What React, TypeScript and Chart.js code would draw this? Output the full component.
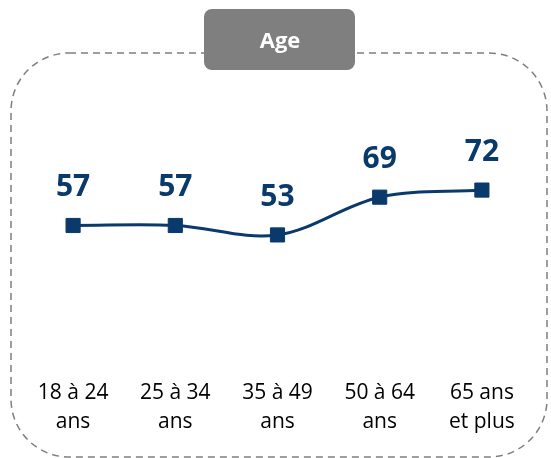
import React, { useEffect, useRef } from "react";
import { Chart, registerables } from "chart.js";

Chart.register(...registerables);

const categories: string[][] = [
  ["18 à 24", "ans"],
  ["25 à 34", "ans"],
  ["35 à 49", "ans"],
  ["50 à 64", "ans"],
  ["65 ans", "et plus"],
];
const values: number[] = [57, 57, 53, 69, 72];
const panelTitle = "Age";

const NAVY = "#0a3a6b";
const GREY = "#7f7f7f";

const framePlugin = {
  id: "frame",
  beforeDraw(chart: any) {
    const ctx = chart.ctx;
    ctx.save();
    // dashed rounded frame
    ctx.beginPath();
    ctx.setLineDash([7, 5]);
    ctx.lineWidth = 1.5;
    ctx.strokeStyle = GREY;
    (ctx as any).roundRect(11, 53, 536, 404, 58);
    ctx.stroke();
    ctx.setLineDash([]);
    // title box
    ctx.beginPath();
    ctx.fillStyle = GREY;
    (ctx as any).roundRect(204, 9, 151, 61, 8);
    ctx.fill();
    ctx.fillStyle = "#ffffff";
    ctx.font = "bold 22px 'Open Sans'";
    ctx.textAlign = "center";
    ctx.textBaseline = "alphabetic";
    ctx.fillText(panelTitle, 280, 48);
    ctx.restore();
  },
};

const labelPlugin = {
  id: "valueLabels",
  afterDatasetsDraw(chart: any) {
    const ctx = chart.ctx;
    const meta = chart.getDatasetMeta(0);
    ctx.save();
    ctx.fillStyle = NAVY;
    ctx.font = "bold 30px 'Open Sans'";
    ctx.textAlign = "center";
    ctx.textBaseline = "alphabetic";
    meta.data.forEach((pt: any, i: number) => {
      ctx.fillText(String(values[i]), pt.x, pt.y - 29);
    });
    ctx.restore();
  },
};

export default function App() {
  const ref = useRef<HTMLCanvasElement>(null);
  useEffect(() => {
    if (!ref.current) return;
    const chart = new Chart(ref.current, {
      type: "line",
      data: {
        labels: categories,
        datasets: [
          {
            data: values,
            borderColor: NAVY,
            backgroundColor: NAVY,
            borderWidth: 3,
            tension: 0.35,
            pointStyle: "rect",
            pointRadius: 10,
            pointBorderWidth: 1,
            pointBackgroundColor: NAVY,
            pointBorderColor: NAVY,
            clip: false as any,
          },
        ],
      },
      options: {
        animation: false,
        responsive: false,
        layout: { padding: { left: 22, right: 18, top: 124, bottom: 0 } },
        plugins: { legend: { display: false }, tooltip: { enabled: false } },
        scales: {
          x: {
            offset: true,
            border: { display: false },
            grid: { display: false, drawTicks: false },
            afterFit: (scale: any) => {
              scale.height = 98;
            },
            ticks: {
              color: "#000000",
              padding: 18.5,
              font: { family: "'Open Sans'", size: 21, lineHeight: 1.38 },
            },
          },
          y: {
            display: false,
            min: 0,
            max: 100,
          },
        },
      },
      plugins: [framePlugin, labelPlugin],
    });
    return () => chart.destroy();
  }, []);
  return (
    <div style={{ position: "absolute", left: 0, top: 0, width: 551, height: 458, background: "#fff" }}>
      <canvas ref={ref} width={551} height={458} />
    </div>
  );
}
